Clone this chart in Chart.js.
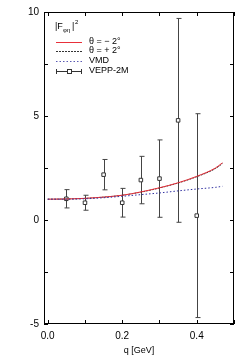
<!DOCTYPE html>
<html>
<head>
<meta charset="utf-8">
<script src="https://cdn.jsdelivr.net/npm/chart.js@4"></script>
<style>
  html, body { margin: 0; padding: 0; background: #fff; }
  #wrap { width: 249px; height: 356px; }
</style>
</head>
<body>
<div id="wrap"><canvas id="chart" width="249" height="356"></canvas></div>
<script>
// curve samples
var qCurve = [0, 0.05, 0.1, 0.15, 0.2, 0.25, 0.3, 0.35, 0.4, 0.45, 0.469];
var thetaMinus = [1.0, 1.01, 1.04, 1.1, 1.19, 1.35, 1.55, 1.79, 2.1, 2.5, 2.75];
var thetaPlus = [1.0, 1.01, 1.04, 1.1, 1.19, 1.34, 1.54, 1.78, 2.08, 2.47, 2.71];
var vmd = [1.0, 1.0, 1.02, 1.07, 1.14, 1.22, 1.3, 1.4, 1.49, 1.57, 1.62];

// VEPP-2M data
var qData = [0.05, 0.1, 0.15, 0.2, 0.25, 0.3, 0.35, 0.4];
var fData = [1.02, 0.83, 2.18, 0.83, 1.92, 1.99, 4.79, 0.21];
var fErr = [0.44, 0.36, 0.73, 0.69, 1.14, 1.86, 4.9, 4.9];

var xTicks = [0, 0.1, 0.2, 0.3, 0.4, 0.5];
var xLabels = ['0.0', '', '0.2', '', '0.4', ''];
var yTicks = [-5, -2.5, 0, 2.5, 5, 7.5, 10];
var yLabels = ['-5', '', '0', '', '5', '', '10'];

function pts(xs, ys) {
  return xs.map(function (x, i) { return { x: x, y: ys[i] }; });
}

var FONT = '"Liberation Sans", Arial, sans-serif';

var framePlugin = {
  id: 'frame',
  afterDraw: function (chart) {
    var ctx = chart.ctx, a = chart.chartArea;
    var xs = chart.scales.x, ys = chart.scales.y;
    ctx.save();
    ctx.strokeStyle = '#000';
    ctx.lineWidth = 1;
    ctx.strokeRect(a.left + 0.5, a.top + 0.5, a.right - a.left - 1, a.bottom - a.top - 1);
    ctx.beginPath();
    xTicks.forEach(function (v) {
      var px = Math.round(xs.getPixelForValue(v)) + 0.5;
      ctx.moveTo(px, a.bottom); ctx.lineTo(px, a.bottom - 4);
      ctx.moveTo(px, a.top); ctx.lineTo(px, a.top + 4);
    });
    yTicks.forEach(function (v) {
      var py = Math.round(ys.getPixelForValue(v)) + 0.5;
      ctx.moveTo(a.left, py); ctx.lineTo(a.left + 4, py);
      ctx.moveTo(a.right, py); ctx.lineTo(a.right - 4, py);
    });
    ctx.stroke();
    ctx.restore();
  }
};

var errPlugin = {
  id: 'errbars',
  beforeDatasetsDraw: function (chart) {
    var ctx = chart.ctx, xs = chart.scales.x, ys = chart.scales.y;
    ctx.save();
    ctx.strokeStyle = '#444';
    ctx.lineWidth = 1;
    ctx.beginPath();
    qData.forEach(function (q, i) {
      var px = Math.round(xs.getPixelForValue(q)) + 0.5;
      var t = ys.getPixelForValue(fData[i] + fErr[i]);
      var b = ys.getPixelForValue(fData[i] - fErr[i]);
      ctx.moveTo(px, t); ctx.lineTo(px, b);
      ctx.moveTo(px - 2, t); ctx.lineTo(px + 3, t);
      ctx.moveTo(px - 2, b); ctx.lineTo(px + 3, b);
    });
    ctx.stroke();
    ctx.restore();
  }
};

var legendPlugin = {
  id: 'keybox',
  afterDraw: function (chart) {
    var ctx = chart.ctx;
    ctx.save();
    ctx.fillStyle = '#000';
    ctx.textBaseline = 'middle';
    ctx.font = '9px ' + FONT;
    ctx.fillText('|F', 55, 27);
    ctx.font = '6px ' + FONT;
    ctx.fillText('\u03c6\u03b7', 63, 30);
    ctx.font = '9px ' + FONT;
    ctx.fillText('|', 72, 27);
    ctx.font = '6px ' + FONT;
    ctx.fillText('2', 75, 22);

    var x0 = 56, x1 = 82, tx = 89;
    var rows = [42, 51, 61, 71];
    ctx.font = '9px ' + FONT;
    ctx.fillText('\u03b8 = \u2212 2\u00b0', tx, rows[0]);
    ctx.fillText('\u03b8 = + 2\u00b0', tx, rows[1]);
    ctx.fillText('VMD', tx, rows[2]);
    ctx.fillText('VEPP-2M', tx, rows[3]);

    ctx.lineWidth = 1;
    ctx.strokeStyle = '#e8303a';
    ctx.beginPath(); ctx.moveTo(x0, rows[0] + 0.5); ctx.lineTo(x1, rows[0] + 0.5); ctx.stroke();
    ctx.lineWidth = 0.8;
    ctx.strokeStyle = '#000';
    ctx.setLineDash([2, 1]);
    ctx.beginPath(); ctx.moveTo(x0, rows[1] + 0.5); ctx.lineTo(x1, rows[1] + 0.5); ctx.stroke();
    ctx.strokeStyle = '#3030a0';
    ctx.setLineDash([1.5, 2]);
    ctx.beginPath(); ctx.moveTo(x0, rows[2] + 0.5); ctx.lineTo(x1, rows[2] + 0.5); ctx.stroke();
    ctx.setLineDash([]);
    ctx.strokeStyle = '#333';
    ctx.lineWidth = 1;
    ctx.beginPath();
    ctx.moveTo(x0, rows[3] + 0.5); ctx.lineTo(x1, rows[3] + 0.5);
    ctx.moveTo(x0 + 0.5, rows[3] - 2); ctx.lineTo(x0 + 0.5, rows[3] + 3);
    ctx.moveTo(x1 - 0.5, rows[3] - 2); ctx.lineTo(x1 - 0.5, rows[3] + 3);
    ctx.stroke();
    ctx.fillStyle = '#fff';
    ctx.fillRect(67, rows[3] - 2, 4, 4);
    ctx.strokeRect(67.5, rows[3] - 1.5, 4, 4);
    ctx.restore();
  }
};

new Chart(document.getElementById('chart'), {
  type: 'scatter',
  data: {
    datasets: [
      {
        label: 'VMD',
        data: pts(qCurve, vmd),
        showLine: true,
        borderColor: '#3030a0',
        borderWidth: 1,
        borderDash: [1.5, 2],
        pointRadius: 0,
        cubicInterpolationMode: 'monotone'
      },
      {
        label: '\u03b8 = \u2212 2\u00b0',
        data: pts(qCurve, thetaMinus),
        showLine: true,
        borderColor: '#e8303a',
        borderWidth: 1,
        pointRadius: 0,
        cubicInterpolationMode: 'monotone'
      },
      {
        label: '\u03b8 = + 2\u00b0',
        data: pts(qCurve, thetaPlus),
        showLine: true,
        borderColor: '#000',
        borderWidth: 0.8,
        borderDash: [2, 1],
        pointRadius: 0,
        cubicInterpolationMode: 'monotone'
      },
      {
        label: 'VEPP-2M',
        data: pts(qData, fData),
        showLine: false,
        pointStyle: 'rect',
        pointRadius: 2.5,
        borderColor: '#333',
        borderWidth: 1,
        backgroundColor: '#fff'
      }
    ]
  },
  options: {
    responsive: false,
    animation: false,
    layout: { padding: { left: 0, right: 15, top: 12, bottom: 0 } },
    plugins: { legend: { display: false }, tooltip: { enabled: false } },
    scales: {
      x: {
        type: 'linear',
        min: -0.01,
        max: 0.5,
        afterBuildTicks: function (s) { s.ticks = xTicks.map(function (v) { return { value: v }; }); },
        afterFit: function (s) { s.height = 32; },
        grid: { display: false, drawTicks: false },
        border: { display: false },
        ticks: {
          padding: 6,
          color: '#000',
          font: { family: FONT, size: 10 },
          maxRotation: 0,
          callback: function (v, i) { return xLabels[i]; }
        },
        title: {
          display: true,
          text: 'q [GeV]',
          color: '#000',
          font: { family: FONT, size: 9 },
          padding: { top: 3, bottom: 0 }
        }
      },
      y: {
        type: 'linear',
        min: -5,
        max: 10,
        afterBuildTicks: function (s) { s.ticks = yTicks.map(function (v) { return { value: v }; }); },
        afterFit: function (s) { s.width = 44; },
        grid: { display: false, drawTicks: false },
        border: { display: false },
        ticks: {
          padding: 5,
          color: '#000',
          font: { family: FONT, size: 10 },
          callback: function (v, i) { return yLabels[i]; }
        }
      }
    }
  },
  plugins: [errPlugin, framePlugin, legendPlugin]
});
</script>
</body>
</html>
